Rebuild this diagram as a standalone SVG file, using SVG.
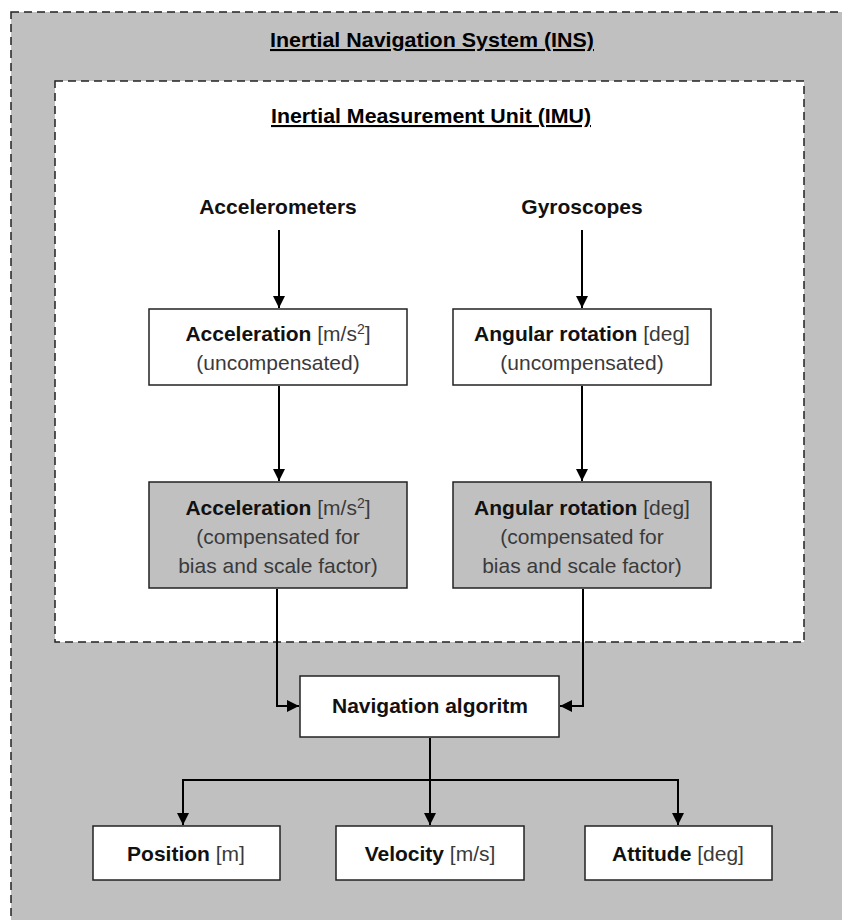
<svg xmlns="http://www.w3.org/2000/svg" width="842" height="920" viewBox="0 0 842 920">
<defs>
<marker id="arr" viewBox="0 0 12 12" refX="12" refY="6" markerWidth="12" markerHeight="12" markerUnits="userSpaceOnUse" orient="auto">
<path d="M0,0 L12,6 L0,12 Z" fill="#000"/>
</marker>
<style>
.t{font-family:"Liberation Sans",Arial,sans-serif;font-size:21px;fill:#111;text-anchor:middle}
.b{font-weight:bold}
.r{font-weight:normal;fill:#3a3a3a}
.box{fill:#fff;stroke:#222;stroke-width:1.5}
.gbox{fill:#c0c0c0;stroke:#222;stroke-width:1.5}
.con{fill:none;stroke:#000;stroke-width:2;marker-end:url(#arr)}
.title{font-family:"Liberation Sans",Arial,sans-serif;font-size:21px;font-weight:bold;fill:#000;text-anchor:middle;text-decoration:underline}
</style>
</defs>
<rect width="842" height="920" fill="#fff"/>
<g id="ins">
<rect x="11" y="12" width="845" height="920" fill="#c0c0c0" stroke="#222" stroke-width="1.5" stroke-dasharray="8,5"/>
<text class="title" x="432" y="47" textLength="324" lengthAdjust="spacingAndGlyphs">Inertial Navigation System (INS)</text>
</g>
<g id="imu">
<rect x="55" y="81" width="749" height="561" fill="#fff" stroke="#222" stroke-width="1.5" stroke-dasharray="8,5"/>
<text class="title" x="431" y="123" textLength="320" lengthAdjust="spacingAndGlyphs">Inertial Measurement Unit (IMU)</text>
</g>
<g id="accelerometers"><text class="t b" x="278" y="214">Accelerometers</text></g>
<g id="gyroscopes"><text class="t b" x="582" y="214">Gyroscopes</text></g>
<g id="acc-uncomp">
<rect class="box" x="149" y="309" width="258" height="76"/>
<text class="t" x="278" y="341"><tspan class="b">Acceleration</tspan><tspan class="r"> [m/s</tspan><tspan class="r" font-size="14" dy="-7">2</tspan><tspan class="r" dy="7">]</tspan></text>
<text class="t r" x="278" y="370">(uncompensated)</text>
</g>
<g id="ang-uncomp">
<rect class="box" x="453" y="309" width="258" height="76"/>
<text class="t" x="582" y="341"><tspan class="b">Angular rotation</tspan><tspan class="r"> [deg]</tspan></text>
<text class="t r" x="582" y="370">(uncompensated)</text>
</g>
<g id="acc-comp">
<rect class="gbox" x="149" y="482" width="258" height="106"/>
<text class="t" x="278" y="515"><tspan class="b">Acceleration</tspan><tspan class="r"> [m/s</tspan><tspan class="r" font-size="14" dy="-7">2</tspan><tspan class="r" dy="7">]</tspan></text>
<text class="t r" x="278" y="544">(compensated for</text>
<text class="t r" x="278" y="573">bias and scale factor)</text>
</g>
<g id="ang-comp">
<rect class="gbox" x="453" y="482" width="258" height="106"/>
<text class="t" x="582" y="515"><tspan class="b">Angular rotation</tspan><tspan class="r"> [deg]</tspan></text>
<text class="t r" x="582" y="544">(compensated for</text>
<text class="t r" x="582" y="573">bias and scale factor)</text>
</g>
<g id="nav">
<rect class="box" x="300" y="676" width="259" height="61"/>
<text class="t b" x="430" y="713">Navigation algoritm</text>
</g>
<g id="position">
<rect class="box" x="93" y="826" width="187" height="54"/>
<text class="t" x="186" y="861"><tspan class="b">Position</tspan><tspan class="r"> [m]</tspan></text>
</g>
<g id="velocity">
<rect class="box" x="336" y="826" width="188" height="54"/>
<text class="t" x="430" y="861"><tspan class="b">Velocity</tspan><tspan class="r"> [m/s]</tspan></text>
</g>
<g id="attitude">
<rect class="box" x="585" y="826" width="187" height="54"/>
<text class="t" x="678" y="861"><tspan class="b">Attitude</tspan><tspan class="r"> [deg]</tspan></text>
</g>
<g id="connectors">
<path class="con" d="M279,230 V308"/>
<path class="con" d="M582,230 V308"/>
<path class="con" d="M279,386 V481"/>
<path class="con" d="M582,386 V481"/>
<path class="con" d="M277,589 V706 H299"/>
<path class="con" d="M583,589 V706 H560"/>
<path fill="none" stroke="#000" stroke-width="2" d="M183,780 H678"/>
<path class="con" d="M430,738 V825"/>
<path class="con" d="M183,779 V825"/>
<path class="con" d="M678,779 V825"/>
</g>
</svg>
